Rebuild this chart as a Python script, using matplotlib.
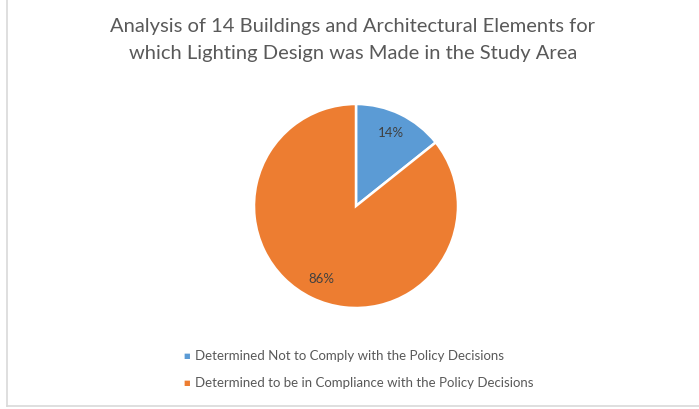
import matplotlib.pyplot as plt
from matplotlib.lines import Line2D

# data
labels = ['Determined Not to Comply with the Policy Decisions',
          'Determined to be in Compliance with the Policy Decisions']
counts = [2, 12]
colors = ['#5B9BD5', '#ED7D31']
title = ('Analysis of 14 Buildings and Architectural Elements for\n'
         'which Lighting Design was Made in the Study Area')

W, H = 699, 409
plt.rcParams['font.family'] = ['Lato', 'DejaVu Sans']
txt = '#595959'

fig = plt.figure(figsize=(W / 100, H / 100), dpi=100)
fig.patch.set_facecolor('white')

# chart frame (left and bottom edges visible)
fig.add_artist(Line2D([7 / W, 7 / W], [3 / H, 1], color='#D9D9D9', lw=1.2))
fig.add_artist(Line2D([7 / W, 1], [3 / H, 3 / H], color='#D9D9D9', lw=1.2))

fig.text(353 / W, 1 - 40 / H, title, ha='center', va='center',
         fontsize=14.5, color=txt, linespacing=1.65)

# pie centred at (356, 206), radius ~102 px
r = 102
ax = fig.add_axes([(356 - r) / W, (H - 206 - r) / H, 2 * r / W, 2 * r / H])
wedges, _, autotexts = ax.pie(counts, colors=colors, startangle=90, counterclock=False,
                              autopct=lambda p: '{:.0f}%'.format(p), pctdistance=0.79,
                              wedgeprops=dict(edgecolor='white', linewidth=1.8),
                              textprops=dict(color='#404040', fontsize=9.5))
ax.set_xlim(-1, 1)
ax.set_ylim(-1, 1)
ax.set_aspect('equal')
ax.axis('off')

# legend
for i, (lab, c) in enumerate(zip(labels, colors)):
    y = 1 - (356 + 27 * i) / H
    fig.text(187 / W, y, '\u25A0', color=c, fontsize=5, ha='center', va='center',
             family='DejaVu Sans')
    fig.text(195 / W, y, lab, color=txt, fontsize=9.5, ha='left', va='center')

fig.savefig('out.png', dpi=100)
